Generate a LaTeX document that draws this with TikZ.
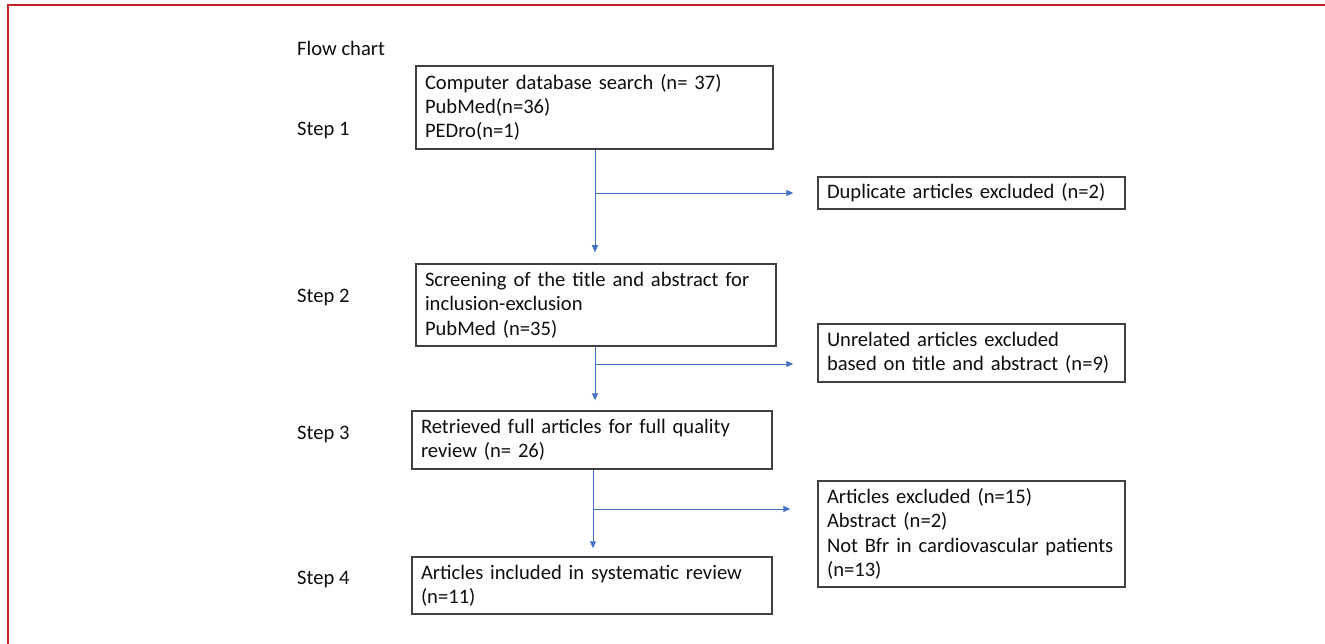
\documentclass[tikz,border=0pt]{standalone}
\usepackage{fontspec}
\setmainfont{Carlito}
\usetikzlibrary{arrows.meta}
\definecolor{frame}{RGB}{196,32,44}
\definecolor{arrblue}{RGB}{68,114,196}
\definecolor{boxgray}{RGB}{64,64,64}
\definecolor{txt}{RGB}{15,15,15}
\begin{document}
\begin{tikzpicture}[x=1pt,y=-1pt,
  font=\fontsize{20.6}{24.3}\selectfont, text=txt,
  fbox/.style={draw=boxgray,line width=1.5pt,align=left,inner xsep=9pt,inner ysep=0pt},
  lbl/.style={anchor=west,inner sep=0pt},
  arr/.style={draw=arrblue,line width=0.9pt,-{Triangle[length=7pt,width=6pt]}}]
\useasboundingbox (0,0) rectangle (1325,644);
\fill[white] (0,0) rectangle (1325,644);
\draw[frame,line width=2pt] (7.5,644) -- (7.5,5.5) -- (1325,5.5);

\node[lbl] (fc) at (297,48) {Flow chart};
\node[lbl] (s1) at (297,130) {Step 1};
\node[lbl] (s2) at (297,297) {Step 2};
\node[lbl] (s3) at (297,434) {Step 3};
\node[lbl] (s4) at (297,579) {Step 4};

\node[fbox,text width=339pt,minimum height=83pt] (b1) at (594.5,107.5)
  {Computer database search (n= 37)\\PubMed(n=36)\\PEDro(n=1)};
\node[fbox,text width=289pt,minimum height=32pt] (b2) at (971.5,193)
  {Duplicate articles excluded (n=2)};
\node[fbox,text width=342pt,minimum height=82pt] (b3) at (596,305)
  {Screening of the title and abstract for\\inclusion-exclusion\\PubMed (n=35)};
\node[fbox,text width=289pt,minimum height=58pt] (b4) at (971.5,353)
  {Unrelated articles excluded\\based on title and abstract (n=9)};
\node[fbox,text width=342pt,minimum height=58pt] (b5) at (592,440)
  {Retrieved full articles for full quality\\review (n= 26)};
\node[fbox,text width=289pt,minimum height=106pt] (b6) at (971.5,534)
  {Articles excluded (n=15)\\Abstract (n=2)\\Not Bfr in cardiovascular patients\\(n=13)};
\node[fbox,text width=342pt,minimum height=57pt] (b7) at (592,585.5)
  {Articles included in systematic review\\(n=11)};

\coordinate (v1) at (595,0);
\coordinate (v3) at (593,0);
\coordinate (j1) at (595,193);
\coordinate (j2) at (595,364);
\coordinate (j3) at (593,509);

\draw[arr] (b1.south -| v1) -- ([yshift=11pt]b3.north -| v1);
\draw[arr] (j1) -- ([xshift=-24pt]b2.west |- j1);
\draw[arr] (b3.south -| v1) -- ([yshift=10pt]b5.north -| v1);
\draw[arr] (j2) -- ([xshift=-24pt]b4.west |- j2);
\draw[arr] (b5.south -| v3) -- ([yshift=8pt]b7.north -| v3);
\draw[arr] (j3) -- ([xshift=-27pt]b6.west |- j3);
\end{tikzpicture}
\end{document}
